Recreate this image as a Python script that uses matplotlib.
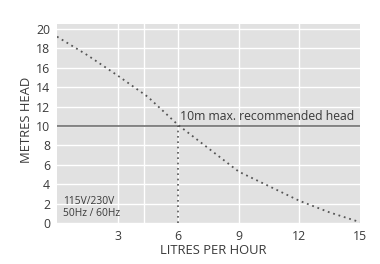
import matplotlib.pyplot as plt

# pump curve
flow = [0, 1.5, 3, 4.5, 6, 7.5, 9, 10.5, 12, 13.5, 15]
head = [19.2, 17.3, 15.2, 13.0, 10.1, 7.7, 5.3, 3.8, 2.3, 1.1, 0.1]

xticks = [3, 6, 9, 12, 15]
yticks = list(range(0, 21, 2))
vgrid = [3, 4.3, 6, 9, 12]

max_head = 10
max_flow = 6

plt.rcParams['font.family'] = ['Open Sans', 'DejaVu Sans']
txt = '#3a3a3a'

fig = plt.figure(figsize=(3.8, 2.64), dpi=100)
ax = fig.add_axes([0.15, 0.155, 0.797, 0.754])
ax.set_facecolor('#e1e1e1')

for y in yticks:
    ax.axhline(y, color='white', lw=1.0, zorder=1)
for x in vgrid:
    ax.axvline(x, color='white', lw=1.0, zorder=1)

ax.axhline(max_head, color='#666666', lw=1.1, zorder=3)
ax.plot([max_flow, max_flow], [0, max_head], color='#555555', lw=1.2,
        linestyle=(0, (1, 2.2)), zorder=3)
ax.plot(flow, head, color='#555555', lw=1.3, linestyle=(0, (1, 2.1)), zorder=4)

ax.text(6.1, 10.35, '10m max. recommended head', fontsize=8.8, color=txt,
        va='bottom', ha='left')
ax.text(0.3, 0.45, '115V/230V\n50Hz / 60Hz', fontsize=7.4, color=txt,
        va='bottom', ha='left', linespacing=1.15)

ax.set_xlim(0, 15)
ax.set_ylim(0, 20.5)
ax.set_xticks(xticks)
ax.set_yticks(yticks)
ax.tick_params(length=0, labelsize=8.8, labelcolor=txt, pad=5)
for s in ax.spines.values():
    s.set_visible(False)

ax.set_xlabel('LITRES PER HOUR', fontsize=9.4, color=txt)
ax.set_ylabel('METRES HEAD', fontsize=9.4, color=txt)
ax.xaxis.label.set_va('center')
ax.yaxis.label.set_va('center')
ax.xaxis.set_label_coords(0.515, -0.136)
ax.yaxis.set_label_coords(-0.1, 0.52)

fig.savefig('out.png', dpi=100)
